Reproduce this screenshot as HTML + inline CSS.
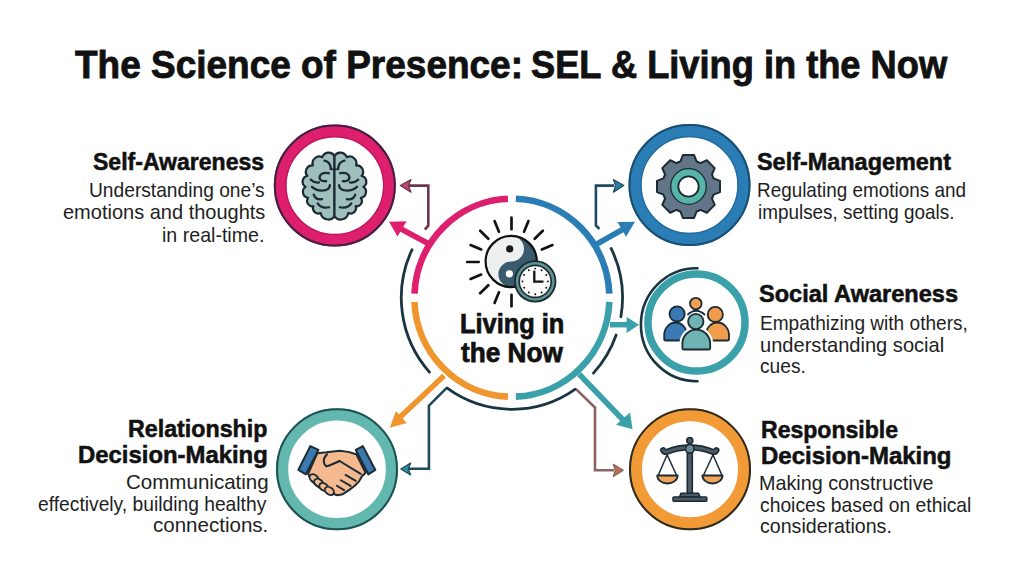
<!DOCTYPE html>
<html><head><meta charset="utf-8"><style>
html,body{margin:0;padding:0;background:#fff;}
body{width:1024px;height:572px;position:relative;overflow:hidden;font-family:"Liberation Sans",sans-serif;}
svg{position:absolute;left:0;top:0;}
</style></head><body>
<svg width="1024" height="572" viewBox="0 0 1024 572">
<path d="M507.96 198.78 A97.5 99.0 0 0 0 414.48 293.64" fill="none" stroke="#de1f6e" stroke-width="6.6" stroke-linecap="butt"/>
<path d="M515.84 198.78 A97.5 99.0 0 0 1 609.32 293.64" fill="none" stroke="#2b7db6" stroke-width="6.6" stroke-linecap="butt"/>
<path d="M609.32 301.76 A97.5 99.0 0 0 1 515.84 396.62" fill="none" stroke="#3aa0aa" stroke-width="6.6" stroke-linecap="butt"/>
<path d="M414.48 301.76 A97.5 99.0 0 0 0 507.96 396.62" fill="none" stroke="#f0962e" stroke-width="6.6" stroke-linecap="butt"/>
<path d="M412.07 249.65 A110.6 111.6 0 0 0 429.45 372.09" fill="none" stroke="#1a3542" stroke-width="2.8" stroke-linecap="round"/>
<path d="M611.14 248.43 A110.6 111.6 0 0 1 620.89 316.70" fill="none" stroke="#1a3542" stroke-width="2.8" stroke-linecap="round"/>
<path d="M616.16 334.95 A110.6 111.6 0 0 1 593.44 373.10" fill="none" stroke="#1a3542" stroke-width="2.8" stroke-linecap="round"/>
<path d="M446.89 387.99 A110.6 111.6 0 0 0 575.34 389.12" fill="none" stroke="#1a3542" stroke-width="2.8" stroke-linecap="round"/>
<path d="M430.00 244.50 L397.00 226.80" fill="none" stroke="#de1f6e" stroke-width="5.6" stroke-linecap="butt" stroke-linejoin="miter"/>
<path d="M389.00 221.70 L406.60 221.30 L397.50 236.60 Z" fill="#de1f6e" stroke="none" stroke-width="0" stroke-linejoin="round"/>
<path d="M596.00 244.50 L627.00 227.00" fill="none" stroke="#2b7db6" stroke-width="5.6" stroke-linecap="butt" stroke-linejoin="miter"/>
<path d="M635.00 221.80 L617.50 222.00 L626.00 236.80 Z" fill="#2b7db6" stroke="none" stroke-width="0" stroke-linejoin="round"/>
<path d="M610.00 324.70 L628.00 324.70" fill="none" stroke="#3aa0aa" stroke-width="5.5" stroke-linecap="butt" stroke-linejoin="miter"/>
<path d="M639.00 324.80 L626.60 317.00 L626.60 332.90 Z" fill="#3aa0aa" stroke="none" stroke-width="0" stroke-linejoin="round"/>
<path d="M579.00 374.00 L625.00 422.00" fill="none" stroke="#3aa0aa" stroke-width="5.5" stroke-linecap="butt" stroke-linejoin="miter"/>
<path d="M632.60 429.20 L616.00 424.80 L630.00 412.60 Z" fill="#3aa0aa" stroke="none" stroke-width="0" stroke-linejoin="round"/>
<path d="M444.00 375.70 L397.00 420.00" fill="none" stroke="#f0962e" stroke-width="5.5" stroke-linecap="butt" stroke-linejoin="miter"/>
<path d="M389.80 427.70 L395.90 411.10 L406.90 422.90 Z" fill="#f0962e" stroke="none" stroke-width="0" stroke-linejoin="round"/>
<path d="M424.80 229.50 L428.30 225.70 L428.30 185.60 L409.00 185.60" fill="none" stroke="#6e3450" stroke-width="2.6" stroke-linecap="butt" stroke-linejoin="miter"/>
<path d="M400.30 185.60 L411.00 179.60 L408.50 185.60 L411.00 192.20 Z" fill="#b8476e" stroke="#6e3450" stroke-width="1.2" stroke-linejoin="round"/>
<path d="M599.40 229.00 L595.90 225.50 L595.90 185.60 L614.00 185.60" fill="none" stroke="#1e4a60" stroke-width="2.6" stroke-linecap="butt" stroke-linejoin="miter"/>
<path d="M623.80 185.60 L613.40 179.60 L615.50 185.60 L613.40 192.20 Z" fill="#2f7ba5" stroke="#1e4a60" stroke-width="1.2" stroke-linejoin="round"/>
<path d="M446.20 388.30 L428.90 405.70 L428.90 468.80 L409.00 468.80" fill="none" stroke="#1f4a5a" stroke-width="2.6" stroke-linecap="butt" stroke-linejoin="miter"/>
<path d="M400.80 469.00 L410.60 463.00 L408.50 469.00 L410.60 475.00 Z" fill="#2f8aa0" stroke="#1f4a5a" stroke-width="1.2" stroke-linejoin="round"/>
<path d="M576.30 389.40 L595.00 407.50 L595.00 470.30 L614.00 470.30" fill="none" stroke="#8c6262" stroke-width="2.6" stroke-linecap="butt" stroke-linejoin="miter"/>
<path d="M623.30 470.30 L613.30 464.20 L615.30 470.30 L613.30 476.50 Z" fill="#b87048" stroke="#8c6262" stroke-width="1.2" stroke-linejoin="round"/>
<circle cx="334.8" cy="185.6" r="54.6" fill="#fff" stroke="#de1f6e" stroke-width="12.799999999999997"/>
<circle cx="334.8" cy="185.6" r="60" fill="none" stroke="#3b2142" stroke-width="2"/>
<circle cx="334.8" cy="185.6" r="48.900000000000006" fill="none" stroke="#a8124f" stroke-width="1.3" opacity="0.6"/>
<circle cx="689.5" cy="185" r="54.4" fill="#fff" stroke="#2b7db6" stroke-width="13.200000000000003"/>
<circle cx="689.5" cy="185" r="60" fill="none" stroke="#1a4e70" stroke-width="2"/>
<circle cx="689.5" cy="185" r="48.5" fill="none" stroke="#1d5f8e" stroke-width="1.3" opacity="0.6"/>
<circle cx="690" cy="469.3" r="54.5" fill="#fff" stroke="#f29b36" stroke-width="13"/>
<circle cx="690" cy="469.3" r="60" fill="none" stroke="#2b2b26" stroke-width="2"/>
<circle cx="337" cy="469.3" r="54.9" fill="#fff" stroke="#62b7af" stroke-width="12.200000000000003"/>
<circle cx="337" cy="469.3" r="60" fill="none" stroke="#1f5052" stroke-width="2"/>
<circle cx="696.5" cy="322.5" r="48.5" fill="#fff" stroke="#3aa0aa" stroke-width="7.5"/>
<path d="M697.47 268.21 A55.5 56.5 0 1 0 697.47 381.19" fill="none" stroke="#1a3542" stroke-width="2.6" stroke-linecap="round"/>
<path d="M334.48 156.02 A6.60 6.60 0 0 0 322.32 157.31 A6.74 6.74 0 0 0 312.88 165.46 A6.34 6.34 0 0 0 307.31 175.81 A6.02 6.02 0 0 0 305.50 186.81 A6.10 6.10 0 0 0 308.09 197.81 A5.33 5.33 0 0 0 313.27 206.21 A5.49 5.49 0 0 0 320.77 213.07 A7.61 7.61 0 0 0 334.48 216.31 Z" fill="#9ebfbc" stroke="#1c2a33" stroke-width="2.2" stroke-linejoin="round"/>
<path d="M334.48 156.02 A6.60 6.60 0 0 1 346.64 157.31 A6.74 6.74 0 0 1 356.09 165.46 A6.34 6.34 0 0 1 361.65 175.81 A6.02 6.02 0 0 1 363.46 186.81 A6.10 6.10 0 0 1 360.87 197.81 A5.33 5.33 0 0 1 355.70 206.21 A5.49 5.49 0 0 1 348.19 213.07 A7.61 7.61 0 0 1 334.48 216.31 Z" fill="#9ebfbc" stroke="#1c2a33" stroke-width="2.2" stroke-linejoin="round"/>
<path d="M324.52 160.68 Q330.34 161.97 330.99 168.96" fill="none" stroke="#1c2a33" stroke-width="2.3" stroke-linecap="round"/>
<path d="M344.44 160.68 Q338.62 161.97 337.97 168.96" fill="none" stroke="#1c2a33" stroke-width="2.3" stroke-linecap="round"/>
<path d="M328.79 173.23 Q320.25 171.54 319.47 177.50 Q319.99 181.89 326.20 181.12" fill="none" stroke="#1c2a33" stroke-width="2.3" stroke-linecap="round"/>
<path d="M340.17 173.23 Q348.71 171.54 349.49 177.50 Q348.97 181.89 342.76 181.12" fill="none" stroke="#1c2a33" stroke-width="2.3" stroke-linecap="round"/>
<path d="M310.68 179.69 Q314.56 183.19 318.96 182.41" fill="none" stroke="#1c2a33" stroke-width="2.3" stroke-linecap="round"/>
<path d="M358.28 179.69 Q354.40 183.19 350.01 182.41" fill="none" stroke="#1c2a33" stroke-width="2.3" stroke-linecap="round"/>
<path d="M311.97 186.81 Q317.40 191.73 325.43 190.17 Q329.82 188.88 329.82 185.26" fill="none" stroke="#1c2a33" stroke-width="2.3" stroke-linecap="round"/>
<path d="M356.99 186.81 Q351.56 191.73 343.54 190.17 Q339.14 188.88 339.14 185.26" fill="none" stroke="#1c2a33" stroke-width="2.3" stroke-linecap="round"/>
<path d="M313.78 194.57 Q315.34 200.01 322.06 199.23" fill="none" stroke="#1c2a33" stroke-width="2.3" stroke-linecap="round"/>
<path d="M355.18 194.57 Q353.63 200.01 346.90 199.23" fill="none" stroke="#1c2a33" stroke-width="2.3" stroke-linecap="round"/>
<path d="M317.66 203.37 Q321.54 209.06 329.05 207.25" fill="none" stroke="#1c2a33" stroke-width="2.3" stroke-linecap="round"/>
<path d="M351.30 203.37 Q347.42 209.06 339.91 207.25" fill="none" stroke="#1c2a33" stroke-width="2.3" stroke-linecap="round"/>
<path d="M329.69 169.35 L339.27 169.35" stroke="#1c2a33" stroke-width="1.6"/>
<path d="M680.43 161.47 L682.93 154.99 L694.07 154.99 L696.57 161.47 A26.3 26.3 0 0 1 700.50 163.09 L706.84 160.28 L714.72 168.16 L711.91 174.50 A26.3 26.3 0 0 1 713.53 178.43 L720.01 180.93 L720.01 192.07 L713.53 194.57 A26.3 26.3 0 0 1 711.91 198.50 L714.72 204.84 L706.84 212.72 L700.50 209.91 A26.3 26.3 0 0 1 696.57 211.53 L694.07 218.01 L682.93 218.01 L680.43 211.53 A26.3 26.3 0 0 1 676.50 209.91 L670.16 212.72 L662.28 204.84 L665.09 198.50 A26.3 26.3 0 0 1 663.47 194.57 L656.99 192.07 L656.99 180.93 L663.47 178.43 A26.3 26.3 0 0 1 665.09 174.50 L662.28 168.16 L670.16 160.28 L676.50 163.09 A26.3 26.3 0 0 1 680.43 161.47 Z" fill="#637589" stroke="#1c2a33" stroke-width="2" stroke-linejoin="round"/>
<circle cx="688.5" cy="186.5" r="14.2" fill="none" stroke="#56b4a9" stroke-width="7"/>
<circle cx="688.5" cy="186.5" r="17.8" fill="none" stroke="#1c2a33" stroke-width="1.3"/>
<circle cx="688.5" cy="186.5" r="10.2" fill="#fff" stroke="#1c2a33" stroke-width="1.8"/>
<circle cx="695.8" cy="303.6" r="5.8" fill="#f0a050" stroke="#1c2a33" stroke-width="1.8"/>
<path d="M664.20 339.50 L664.20 335.25 A11.40 12.75 0 0 1 687.00 335.25 L687.00 339.50 Q687.00 340.50 685.00 340.50 L666.20 340.50 Q664.20 340.50 664.20 339.50 Z" fill="#3a7ab4" stroke="#1c2a33" stroke-width="1.8" stroke-linejoin="round"/>
<circle cx="677.1" cy="313.9" r="7.6" fill="#3a7ab4" stroke="#1c2a33" stroke-width="1.8"/>
<path d="M705.80 339.50 L705.80 335.25 A11.60 12.75 0 0 1 729.00 335.25 L729.00 339.50 Q729.00 340.50 727.00 340.50 L707.80 340.50 Q705.80 340.50 705.80 339.50 Z" fill="#f19c4c" stroke="#1c2a33" stroke-width="1.8" stroke-linejoin="round"/>
<circle cx="715.3" cy="314.4" r="7.6" fill="#f19c4c" stroke="#1c2a33" stroke-width="1.8"/>
<path d="M682.40 348.50 L682.40 343.77 A13.90 14.17 0 0 1 710.20 343.77 L710.20 348.50 Z" fill="#fff" stroke="#fff" stroke-width="6" stroke-linejoin="round"/>
<path d="M687.5 315 Q696 306.5 705 315" fill="none" stroke="#1c2a33" stroke-width="2"/>
<circle cx="695.8" cy="321.5" r="9.6" fill="#fff"/>
<path d="M682.40 348.50 L682.40 343.77 A13.90 14.17 0 0 1 710.20 343.77 L710.20 348.50 Q710.20 349.50 708.20 349.50 L684.40 349.50 Q682.40 349.50 682.40 348.50 Z" fill="#6fb3b3" stroke="#1c2a33" stroke-width="1.8" stroke-linejoin="round"/>
<circle cx="695.8" cy="321.5" r="7.7" fill="#6fb3b3" stroke="#1c2a33" stroke-width="1.8"/>
<path d="M317.32 453.18 L326.54 452.32 L339.55 450.80 L348.23 451.88 L356.36 454.27 L365.58 472.71 L361.79 476.50 L359.08 481.38 L354.74 485.72 L349.31 489.84 L342.81 494.18 L337.38 495.27 L331.42 493.31 L326.54 491.15 L321.11 488.98 L315.69 484.85 L311.35 480.52 L308.10 473.79 Z" fill="#f4b98f" stroke="#1c2a33" stroke-width="2" stroke-linejoin="round"/>
<ellipse cx="314.07" cy="478.35" rx="5.0" ry="3.5" transform="rotate(36 314.07 478.35)" fill="#f4b98f" stroke="#1c2a33" stroke-width="1.9"/>
<ellipse cx="318.73" cy="482.90" rx="5.0" ry="3.5" transform="rotate(36 318.73 482.90)" fill="#f4b98f" stroke="#1c2a33" stroke-width="1.9"/>
<ellipse cx="323.93" cy="487.02" rx="5.0" ry="3.5" transform="rotate(36 323.93 487.02)" fill="#f4b98f" stroke="#1c2a33" stroke-width="1.9"/>
<ellipse cx="329.36" cy="490.93" rx="5.0" ry="3.5" transform="rotate(36 329.36 490.93)" fill="#f4b98f" stroke="#1c2a33" stroke-width="1.9"/>
<path d="M327.08 454.27 C322.42 458.61 323.07 464.03 326.54 466.42 Q331.42 464.90 339.55 460.99" fill="none" stroke="#1c2a33" stroke-width="2" stroke-linecap="round"/>
<path d="M339.55 460.99 L360.70 473.79" stroke="#1c2a33" stroke-width="2" stroke-linecap="round"/>
<path d="M345.52 474.88 L355.82 480.84" stroke="#1c2a33" stroke-width="1.9" stroke-linecap="round"/>
<path d="M340.85 480.30 L350.62 485.94" stroke="#1c2a33" stroke-width="1.9" stroke-linecap="round"/>
<path d="M336.84 485.72 L344.11 490.06" stroke="#1c2a33" stroke-width="1.9" stroke-linecap="round"/>
<path d="M310.27 446.13 L318.40 449.93 L305.93 474.33 L298.34 470.00 Z" fill="#3b78ad" stroke="#1c2a33" stroke-width="2" stroke-linejoin="round"/>
<path d="M355.82 449.93 L362.87 446.13 L375.34 470.00 L368.30 474.33 Z" fill="#3b78ad" stroke="#1c2a33" stroke-width="2" stroke-linejoin="round"/>
<path d="M667.1 454.8 L658.2 475.5" stroke="#1c2a33" stroke-width="1.5"/>
<path d="M667.1 454.8 L676.7 475.5" stroke="#1c2a33" stroke-width="1.5"/>
<path d="M713 454.8 L703.4 475.5" stroke="#1c2a33" stroke-width="1.5"/>
<path d="M713 454.8 L722 475.5" stroke="#1c2a33" stroke-width="1.5"/>
<path d="M657.2 475.5 L677.7 475.5 A10.25 8 0 0 1 657.2 475.5 Z" fill="#f0a458" stroke="#1c2a33" stroke-width="1.8" stroke-linejoin="round"/>
<path d="M702.4 475.5 L722.6 475.5 A10.100000000000023 8 0 0 1 702.4 475.5 Z" fill="#f0a458" stroke="#1c2a33" stroke-width="1.8" stroke-linejoin="round"/>
<rect x="687.3" y="450" width="5" height="44" fill="#4b5b69" stroke="#1c2a33" stroke-width="1.6"/>
<path d="M679.5 497 L681 493.2 L698.5 493.2 L700 497 Z" fill="#4b5b69" stroke="#1c2a33" stroke-width="1.6" stroke-linejoin="round"/>
<rect x="673" y="497" width="33.8" height="4.3" rx="1" fill="#4b5b69" stroke="#1c2a33" stroke-width="1.6"/>
<path d="M663.2 450.2 Q664.5 452.6 667.5 451.6 Q678 447.6 689.8 447.2 Q701.6 447.6 712.1 451.6 Q715.1 452.6 716.4 450.2" fill="none" stroke="#1c2a33" stroke-width="6.2" stroke-linecap="round" stroke-linejoin="round"/>
<path d="M663.2 450.2 Q664.5 452.6 667.5 451.6 Q678 447.6 689.8 447.2 Q701.6 447.6 712.1 451.6 Q715.1 452.6 716.4 450.2" fill="none" stroke="#4b5b69" stroke-width="3.0" stroke-linecap="round" stroke-linejoin="round"/>
<circle cx="689.8" cy="440.5" r="3" fill="#4b5b69" stroke="#1c2a33" stroke-width="1.6"/>
<circle cx="689.8" cy="448.8" r="4.3" fill="#6d8c9a" stroke="#1c2a33" stroke-width="1.6"/>
<path d="M541.80 249.45 L552.43 245.05" stroke="#111" stroke-width="2.7" stroke-linecap="round"/>
<path d="M534.69 238.81 L542.82 230.68" stroke="#111" stroke-width="2.7" stroke-linecap="round"/>
<path d="M524.05 231.70 L528.45 221.07" stroke="#111" stroke-width="2.7" stroke-linecap="round"/>
<path d="M511.50 229.20 L511.50 217.70" stroke="#111" stroke-width="2.7" stroke-linecap="round"/>
<path d="M498.95 231.70 L494.55 221.07" stroke="#111" stroke-width="2.7" stroke-linecap="round"/>
<path d="M488.31 238.81 L480.18 230.68" stroke="#111" stroke-width="2.7" stroke-linecap="round"/>
<path d="M481.20 249.45 L470.57 245.05" stroke="#111" stroke-width="2.7" stroke-linecap="round"/>
<path d="M478.70 262.00 L467.20 262.00" stroke="#111" stroke-width="2.7" stroke-linecap="round"/>
<path d="M481.20 274.55 L470.57 278.95" stroke="#111" stroke-width="2.7" stroke-linecap="round"/>
<path d="M488.31 285.19 L480.18 293.32" stroke="#111" stroke-width="2.7" stroke-linecap="round"/>
<path d="M498.95 292.30 L494.55 302.93" stroke="#111" stroke-width="2.7" stroke-linecap="round"/>
<path d="M511.50 294.80 L511.50 306.30" stroke="#111" stroke-width="2.7" stroke-linecap="round"/>
<circle cx="511.2" cy="261.5" r="25.6" fill="#eef0f0"/>
<path d="M511.2 235.9 A25.6 25.6 0 0 1 511.2 287.1 A12.8 12.8 0 0 1 511.2 261.5 A12.8 12.8 0 0 0 511.2 235.9 Z" fill="#3a5a6e"/>
<circle cx="511.2" cy="261.5" r="25.6" fill="none" stroke="#111" stroke-width="2.2"/>
<circle cx="509.7" cy="248.9" r="3.6" fill="#1a1a1a"/>
<circle cx="509.4" cy="273.8" r="3.6" fill="#fff"/>
<circle cx="535.2" cy="281.4" r="21.2" fill="#1a2a30"/>
<circle cx="535.2" cy="281.4" r="19.4" fill="#5f9297"/>
<circle cx="535.2" cy="281.4" r="16.8" fill="#1a2a30"/>
<circle cx="535.2" cy="281.4" r="15.2" fill="#fbfbfb"/>
<circle cx="548.00" cy="281.40" r="0.95" fill="#111"/>
<circle cx="546.29" cy="275.00" r="0.95" fill="#111"/>
<circle cx="541.60" cy="270.31" r="0.95" fill="#111"/>
<circle cx="535.20" cy="268.60" r="0.95" fill="#111"/>
<circle cx="528.80" cy="270.31" r="0.95" fill="#111"/>
<circle cx="524.11" cy="275.00" r="0.95" fill="#111"/>
<circle cx="522.40" cy="281.40" r="0.95" fill="#111"/>
<circle cx="524.11" cy="287.80" r="0.95" fill="#111"/>
<circle cx="528.80" cy="292.49" r="0.95" fill="#111"/>
<circle cx="535.20" cy="294.20" r="0.95" fill="#111"/>
<circle cx="541.60" cy="292.49" r="0.95" fill="#111"/>
<circle cx="546.29" cy="287.80" r="0.95" fill="#111"/>
<path d="M534.3000000000001 271.59999999999997 L534.3000000000001 281.59999999999997 L542.6 281.59999999999997" fill="none" stroke="#111" stroke-width="2.3" stroke-linecap="round" stroke-linejoin="miter"/>
</svg>
<div style="position:absolute;left:74.60px;top:44.91px;font-size:39.5px;line-height:39.5px;font-weight:700;color:#111;white-space:nowrap;transform:scaleX(0.9360);transform-origin:0 0;-webkit-text-stroke:0.9px #111;">The Science of Presence:</div>
<div style="position:absolute;left:531.48px;top:44.91px;font-size:39.5px;line-height:39.5px;font-weight:700;color:#111;white-space:nowrap;transform:scaleX(0.9174);transform-origin:0 0;-webkit-text-stroke:0.9px #111;">SEL &amp; Living in the Now</div>
<div style="position:absolute;left:92.72px;top:150.51px;font-size:23.6px;line-height:23.6px;font-weight:700;color:#111;white-space:nowrap;transform:scaleX(0.9759);transform-origin:0 0;-webkit-text-stroke:0.55px #111;">Self-Awareness</div>
<div style="position:absolute;left:88.86px;top:181.00px;font-size:19.8px;line-height:19.8px;font-weight:400;color:#1e1e1e;white-space:nowrap;transform:scaleX(0.9702);transform-origin:0 0;">Understanding one&#8217;s</div>
<div style="position:absolute;left:62.79px;top:203.41px;font-size:19.8px;line-height:19.8px;font-weight:400;color:#1e1e1e;white-space:nowrap;transform:scaleX(1.0111);transform-origin:0 0;">emotions and thoughts</div>
<div style="position:absolute;left:162.41px;top:225.61px;font-size:19.8px;line-height:19.8px;font-weight:400;color:#1e1e1e;white-space:nowrap;transform:scaleX(0.9911);transform-origin:0 0;">in real-time.</div>
<div style="position:absolute;left:757.31px;top:150.81px;font-size:23.6px;line-height:23.6px;font-weight:700;color:#111;white-space:nowrap;transform:scaleX(0.9928);transform-origin:0 0;-webkit-text-stroke:0.55px #111;">Self-Management</div>
<div style="position:absolute;left:757.09px;top:180.91px;font-size:19.8px;line-height:19.8px;font-weight:400;color:#1e1e1e;white-space:nowrap;transform:scaleX(0.9546);transform-origin:0 0;">Regulating emotions and</div>
<div style="position:absolute;left:758.04px;top:202.91px;font-size:19.8px;line-height:19.8px;font-weight:400;color:#1e1e1e;white-space:nowrap;transform:scaleX(0.9552);transform-origin:0 0;">impulses, setting goals.</div>
<div style="position:absolute;left:758.50px;top:282.92px;font-size:23.6px;line-height:23.6px;font-weight:700;color:#111;white-space:nowrap;transform:scaleX(0.9985);transform-origin:0 0;-webkit-text-stroke:0.55px #111;">Social Awareness</div>
<div style="position:absolute;left:759.97px;top:313.61px;font-size:19.8px;line-height:19.8px;font-weight:400;color:#1e1e1e;white-space:nowrap;transform:scaleX(0.9646);transform-origin:0 0;">Empathizing with others,</div>
<div style="position:absolute;left:760.38px;top:335.70px;font-size:19.8px;line-height:19.8px;font-weight:400;color:#1e1e1e;white-space:nowrap;transform:scaleX(1.0151);transform-origin:0 0;">understanding social</div>
<div style="position:absolute;left:760.43px;top:357.00px;font-size:19.8px;line-height:19.8px;font-weight:400;color:#1e1e1e;white-space:nowrap;transform:scaleX(0.9689);transform-origin:0 0;">cues.</div>
<div style="position:absolute;left:760.82px;top:418.61px;font-size:23.6px;line-height:23.6px;font-weight:700;color:#111;white-space:nowrap;transform:scaleX(0.9763);transform-origin:0 0;-webkit-text-stroke:0.55px #111;">Responsible</div>
<div style="position:absolute;left:760.78px;top:444.61px;font-size:23.6px;line-height:23.6px;font-weight:700;color:#111;white-space:nowrap;transform:scaleX(1.0162);transform-origin:0 0;-webkit-text-stroke:0.55px #111;">Decision-Making</div>
<div style="position:absolute;left:759.40px;top:474.41px;font-size:19.8px;line-height:19.8px;font-weight:400;color:#1e1e1e;white-space:nowrap;transform:scaleX(0.9988);transform-origin:0 0;">Making constructive</div>
<div style="position:absolute;left:760.42px;top:495.81px;font-size:19.8px;line-height:19.8px;font-weight:400;color:#1e1e1e;white-space:nowrap;transform:scaleX(0.9757);transform-origin:0 0;">choices based on ethical</div>
<div style="position:absolute;left:760.41px;top:517.31px;font-size:19.8px;line-height:19.8px;font-weight:400;color:#1e1e1e;white-space:nowrap;transform:scaleX(0.9908);transform-origin:0 0;">considerations.</div>
<div style="position:absolute;left:127.92px;top:417.92px;font-size:23.6px;line-height:23.6px;font-weight:700;color:#111;white-space:nowrap;transform:scaleX(0.9850);transform-origin:0 0;-webkit-text-stroke:0.55px #111;">Relationship</div>
<div style="position:absolute;left:78.49px;top:444.20px;font-size:23.6px;line-height:23.6px;font-weight:700;color:#111;white-space:nowrap;transform:scaleX(1.0124);transform-origin:0 0;-webkit-text-stroke:0.55px #111;">Decision-Making</div>
<div style="position:absolute;left:125.56px;top:473.00px;font-size:19.8px;line-height:19.8px;font-weight:400;color:#1e1e1e;white-space:nowrap;transform:scaleX(1.0385);transform-origin:0 0;">Communicating</div>
<div style="position:absolute;left:38.13px;top:494.61px;font-size:19.8px;line-height:19.8px;font-weight:400;color:#1e1e1e;white-space:nowrap;transform:scaleX(0.9731);transform-origin:0 0;">effectively, building healthy</div>
<div style="position:absolute;left:152.86px;top:516.11px;font-size:19.8px;line-height:19.8px;font-weight:400;color:#1e1e1e;white-space:nowrap;transform:scaleX(1.0380);transform-origin:0 0;">connections.</div>
<div style="position:absolute;left:459.86px;top:311.41px;font-size:27px;line-height:27px;font-weight:700;color:#111;white-space:nowrap;transform:scaleX(0.9394);transform-origin:0 0;-webkit-text-stroke:0.75px #111;">Living in</div>
<div style="position:absolute;left:460.80px;top:340.31px;font-size:27px;line-height:27px;font-weight:700;color:#111;white-space:nowrap;transform:scaleX(0.9695);transform-origin:0 0;-webkit-text-stroke:0.75px #111;">the Now</div>
</body></html>
